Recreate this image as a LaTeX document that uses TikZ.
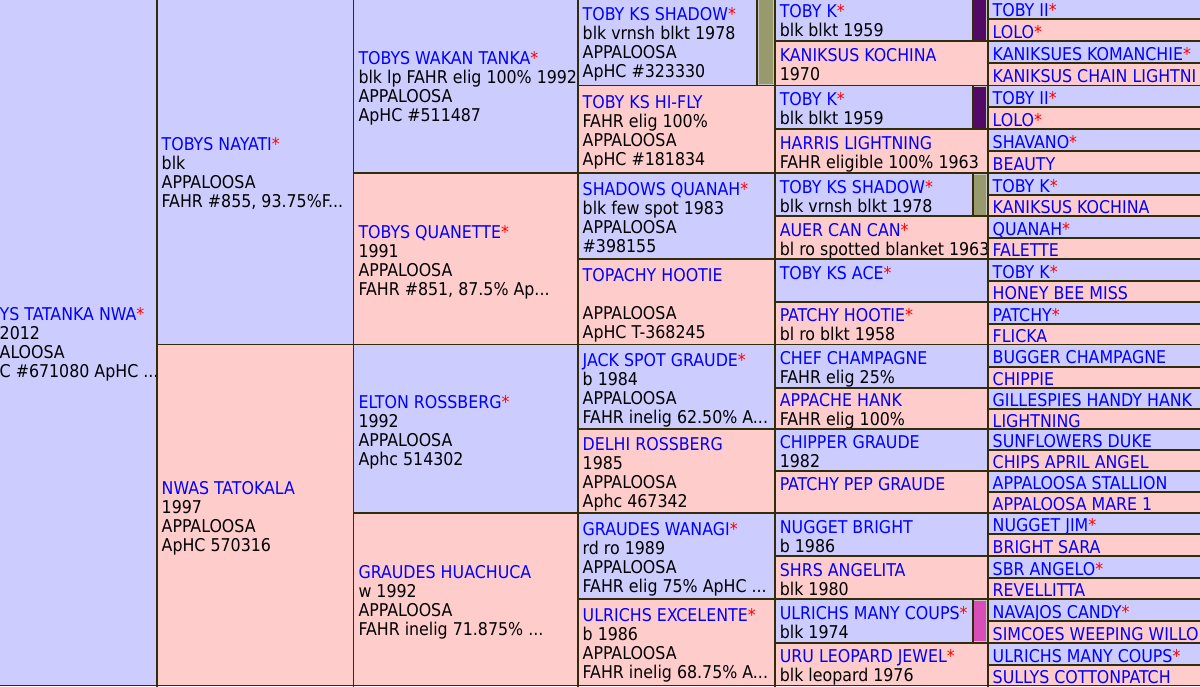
\documentclass[tikz,border=0pt]{standalone}
\usepackage{fontspec}
\setmainfont{DejaVu Sans Condensed}
\definecolor{bfill}{RGB}{204,204,255}
\definecolor{pfill}{RGB}{255,204,204}
\definecolor{bord}{RGB}{51,44,10}
\definecolor{nameblue}{RGB}{0,0,255}
\definecolor{starred}{RGB}{255,0,0}
\definecolor{olivebar}{RGB}{153,153,110}
\definecolor{purplebar}{RGB}{82,10,102}
\definecolor{magbar}{RGB}{217,77,184}
\newcommand\Hn[1]{\textcolor{nameblue}{#1}}
\newcommand\Hs{\textcolor{starred}{*}}
\newcommand\Ln[1]{\hbox{#1}}
\newcommand\Cell[8]{%
  \fill[#6] (#2,#3) rectangle (#4,#5);
  \pgfmathsetmacro\cby{(#3+#5)/2-#7*9.5+17.5}%
  \pgfmathsetmacro\cbx{#2+5}%
  \node[txt] (#1) at (\cbx,\cby) {\vtop{\baselineskip=14.25pt\relax\lineskiplimit=-100pt\relax #8}};}
\newcommand\Bar[5]{%
  \fill[#5] (#1,#2) rectangle (#3,#4);
  \draw[barline] ({#1+1.2},{#2+1.2}) rectangle ({#3-1.2},{#4-1.2});}
\tikzset{
  txt/.style={anchor=base west, inner sep=0pt, outer sep=0pt,
    font=\fontsize{13.2}{14.25}\selectfont},
  bordline/.style={draw=bord, line width=1.4pt},
  barline/.style={draw=gray!45, line width=0.7pt}
}
\begin{document}
\begin{tikzpicture}[x=0.75pt,y=-0.75pt]
\useasboundingbox (0,0) rectangle (1200,686);
\clip (0,0) rectangle (1200,686);
% ---------- column 0 ----------
\Cell{g0}{-5.3}{-2.7}{156.7}{685.5}{bfill}{4}{\Ln{\Hn{YS TATANKA NWA}\Hs}\Ln{2012}\Ln{ALOOSA}\Ln{C \#671080 ApHC ...}}
% ---------- column 1 ----------
\Cell{g1a}{156.7}{-2.7}{353.5}{344.5}{bfill}{4}{\Ln{\Hn{TOBYS NAYATI}\Hs}\Ln{blk}\Ln{APPALOOSA}\Ln{FAHR \#855, 93.75\%F...}}
\Cell{g1b}{156.7}{344.5}{353.5}{685.5}{pfill}{4}{\Ln{\Hn{NWAS TATOKALA}}\Ln{1997}\Ln{APPALOOSA}\Ln{ApHC 570316}}
% ---------- column 2 ----------
\Cell{g2a}{353.5}{-2.7}{577.7}{173}{bfill}{4}{\Ln{\Hn{TOBYS WAKAN TANKA}\Hs}\Ln{blk lp FAHR elig 100\% 1992}\Ln{APPALOOSA}\Ln{ApHC \#511487}}
\Cell{g2b}{353.5}{173}{577.7}{344.5}{pfill}{4}{\Ln{\Hn{TOBYS QUANETTE}\Hs}\Ln{1991}\Ln{APPALOOSA}\Ln{FAHR \#851, 87.5\% Ap...}}
\Cell{g2c}{353.5}{344.5}{577.7}{513}{bfill}{4}{\Ln{\Hn{ELTON ROSSBERG}\Hs}\Ln{1992}\Ln{APPALOOSA}\Ln{Aphc 514302}}
\Cell{g2d}{353.5}{513}{577.7}{685.5}{pfill}{4}{\Ln{\Hn{GRAUDES HUACHUCA}}\Ln{w 1992}\Ln{APPALOOSA}\Ln{FAHR inelig 71.875\% ...}}
% ---------- column 3 ----------
\Cell{g3a}{577.7}{-2.7}{774.8}{85.5}{bfill}{4}{\Ln{\Hn{TOBY KS SHADOW}\Hs}\Ln{blk vrnsh blkt 1978}\Ln{APPALOOSA}\Ln{ApHC \#323330}}
\Cell{g3b}{577.7}{85.5}{774.8}{173}{pfill}{4}{\Ln{\Hn{TOBY KS HI-FLY}}\Ln{FAHR elig 100\%}\Ln{APPALOOSA}\Ln{ApHC \#181834}}
\Cell{g3c}{577.7}{173}{774.8}{259}{bfill}{4}{\Ln{\Hn{SHADOWS QUANAH}\Hs}\Ln{blk few spot 1983}\Ln{APPALOOSA}\Ln{\#398155}}
\Cell{g3d}{577.7}{259}{774.8}{344.5}{pfill}{4}{\Ln{\Hn{TOPACHY HOOTIE}}\Ln{}\Ln{APPALOOSA}\Ln{ApHC T-368245}}
\Cell{g3e}{577.7}{344.5}{774.8}{429}{bfill}{4}{\Ln{\Hn{JACK SPOT GRAUDE}\Hs}\Ln{b 1984}\Ln{APPALOOSA}\Ln{FAHR inelig 62.50\% A...}}
\Cell{g3f}{577.7}{429}{774.8}{513}{pfill}{4}{\Ln{\Hn{DELHI ROSSBERG}}\Ln{1985}\Ln{APPALOOSA}\Ln{Aphc 467342}}
\Cell{g3g}{577.7}{513}{774.8}{599}{bfill}{4}{\Ln{\Hn{GRAUDES WANAGI}\Hs}\Ln{rd ro 1989}\Ln{APPALOOSA}\Ln{FAHR elig 75\% ApHC ...}}
\Cell{g3h}{577.7}{599}{774.8}{685.5}{pfill}{4}{\Ln{\Hn{ULRICHS EXCELENTE}\Hs}\Ln{b 1986}\Ln{APPALOOSA}\Ln{FAHR inelig 68.75\% A...}}
% ---------- column 4 ----------
\Cell{g4a}{774.8}{-2.7}{987.7}{41.3}{bfill}{2}{\Ln{\Hn{TOBY K}\Hs}\Ln{blk blkt 1959}}
\Cell{g4b}{774.8}{41.3}{987.7}{85.5}{pfill}{2}{\Ln{\Hn{KANIKSUS KOCHINA}}\Ln{1970}}
\Cell{g4c}{774.8}{85.5}{987.7}{129.3}{bfill}{2}{\Ln{\Hn{TOBY K}\Hs}\Ln{blk blkt 1959}}
\Cell{g4d}{774.8}{129.3}{987.7}{173}{pfill}{2}{\Ln{\Hn{HARRIS LIGHTNING}}\Ln{FAHR eligible 100\% 1963}}
\Cell{g4e}{774.8}{173}{987.7}{216.3}{bfill}{2}{\Ln{\Hn{TOBY KS SHADOW}\Hs}\Ln{blk vrnsh blkt 1978}}
\Cell{g4f}{774.8}{216.3}{987.7}{259}{pfill}{2}{\Ln{\Hn{AUER CAN CAN}\Hs}\Ln{bl ro spotted blanket 1963}}
\Cell{g4g}{774.8}{259}{987.7}{302.3}{bfill}{2}{\Ln{\Hn{TOBY KS ACE}\Hs}\Ln{}}
\Cell{g4h}{774.8}{302.3}{987.7}{344.5}{pfill}{2}{\Ln{\Hn{PATCHY HOOTIE}\Hs}\Ln{bl ro blkt 1958}}
\Cell{g4i}{774.8}{344.5}{987.7}{387.7}{bfill}{2}{\Ln{\Hn{CHEF CHAMPAGNE}}\Ln{FAHR elig 25\%}}
\Cell{g4j}{774.8}{387.7}{987.7}{429}{pfill}{2}{\Ln{\Hn{APPACHE HANK}}\Ln{FAHR elig 100\%}}
\Cell{g4k}{774.8}{429}{987.7}{471}{bfill}{2}{\Ln{\Hn{CHIPPER GRAUDE}}\Ln{1982}}
\Cell{g4l}{774.8}{471}{987.7}{513}{pfill}{2}{\Ln{\Hn{PATCHY PEP GRAUDE}}\Ln{}}
\Cell{g4m}{774.8}{513}{987.7}{556.3}{bfill}{2}{\Ln{\Hn{NUGGET BRIGHT}}\Ln{b 1986}}
\Cell{g4n}{774.8}{556.3}{987.7}{599}{pfill}{2}{\Ln{\Hn{SHRS ANGELITA}}\Ln{blk 1980}}
\Cell{g4o}{774.8}{599}{987.7}{643}{bfill}{2}{\Ln{\Hn{ULRICHS MANY COUPS}\Hs}\Ln{blk 1974}}
\Cell{g4p}{774.8}{643}{987.7}{685.5}{pfill}{2}{\Ln{\Hn{URU LEOPARD JEWEL}\Hs}\Ln{blk leopard 1976}}
% ---------- column 5 ----------
\Cell{g5a}{987.7}{-2.7}{1205}{19.3}{bfill}{1}{\Ln{\Hn{TOBY II}\Hs}}
\Cell{g5b}{987.7}{19.3}{1205}{41.3}{pfill}{1}{\Ln{\Hn{LOLO}\Hs}}
\Cell{g5c}{987.7}{41.3}{1205}{63.3}{bfill}{1}{\Ln{\Hn{KANIKSUES KOMANCHIE}\Hs}}
\Cell{g5d}{987.7}{63.3}{1205}{85.5}{pfill}{1}{\Ln{\Hn{KANIKSUS CHAIN LIGHTNI}}}
\Cell{g5e}{987.7}{85.5}{1205}{107.3}{bfill}{1}{\Ln{\Hn{TOBY II}\Hs}}
\Cell{g5f}{987.7}{107.3}{1205}{129.3}{pfill}{1}{\Ln{\Hn{LOLO}\Hs}}
\Cell{g5g}{987.7}{129.3}{1205}{151.3}{bfill}{1}{\Ln{\Hn{SHAVANO}\Hs}}
\Cell{g5h}{987.7}{151.3}{1205}{173}{pfill}{1}{\Ln{\Hn{BEAUTY}}}
\Cell{g5i}{987.7}{173}{1205}{195}{bfill}{1}{\Ln{\Hn{TOBY K}\Hs}}
\Cell{g5j}{987.7}{195}{1205}{216.3}{pfill}{1}{\Ln{\Hn{KANIKSUS KOCHINA}}}
\Cell{g5k}{987.7}{216.3}{1205}{237.7}{bfill}{1}{\Ln{\Hn{QUANAH}\Hs}}
\Cell{g5l}{987.7}{237.7}{1205}{259}{pfill}{1}{\Ln{\Hn{FALETTE}}}
\Cell{g5m}{987.7}{259}{1205}{281}{bfill}{1}{\Ln{\Hn{TOBY K}\Hs}}
\Cell{g5n}{987.7}{281}{1205}{302.3}{pfill}{1}{\Ln{\Hn{HONEY BEE MISS}}}
\Cell{g5o}{987.7}{302.3}{1205}{323.7}{bfill}{1}{\Ln{\Hn{PATCHY}\Hs}}
\Cell{g5p}{987.7}{323.7}{1205}{344.5}{pfill}{1}{\Ln{\Hn{FLICKA}}}
\Cell{g5q}{987.7}{344.5}{1205}{367}{bfill}{1}{\Ln{\Hn{BUGGER CHAMPAGNE}}}
\Cell{g5r}{987.7}{367}{1205}{387.7}{pfill}{1}{\Ln{\Hn{CHIPPIE}}}
\Cell{g5s}{987.7}{387.7}{1205}{409}{bfill}{1}{\Ln{\Hn{GILLESPIES HANDY HANK}}}
\Cell{g5t}{987.7}{409}{1205}{429}{pfill}{1}{\Ln{\Hn{LIGHTNING}}}
\Cell{g5u}{987.7}{429}{1205}{449.7}{bfill}{1}{\Ln{\Hn{SUNFLOWERS DUKE}}}
\Cell{g5v}{987.7}{449.7}{1205}{471}{pfill}{1}{\Ln{\Hn{CHIPS APRIL ANGEL}}}
\Cell{g5w}{987.7}{471}{1205}{492.3}{bfill}{1}{\Ln{\Hn{APPALOOSA STALLION}}}
\Cell{g5x}{987.7}{492.3}{1205}{513}{pfill}{1}{\Ln{\Hn{APPALOOSA MARE 1}}}
\Cell{g5y}{987.7}{513}{1205}{534.3}{bfill}{1}{\Ln{\Hn{NUGGET JIM}\Hs}}
\Cell{g5z}{987.7}{534.3}{1205}{556.3}{pfill}{1}{\Ln{\Hn{BRIGHT SARA}}}
\Cell{g5A}{987.7}{556.3}{1205}{577.7}{bfill}{1}{\Ln{\Hn{SBR ANGELO}\Hs}}
\Cell{g5B}{987.7}{577.7}{1205}{599}{pfill}{1}{\Ln{\Hn{REVELLITTA}}}
\Cell{g5C}{987.7}{599}{1205}{621}{bfill}{1}{\Ln{\Hn{NAVAJOS CANDY}\Hs}}
\Cell{g5D}{987.7}{621}{1205}{643}{pfill}{1}{\Ln{\Hn{SIMCOES WEEPING WILLO}}}
\Cell{g5E}{987.7}{643}{1205}{665}{bfill}{1}{\Ln{\Hn{ULRICHS MANY COUPS}\Hs}}
\Cell{g5F}{987.7}{665}{1205}{685.5}{pfill}{1}{\Ln{\Hn{SULLYS COTTONPATCH}}}
% ---------- duplicate-marker bars ----------
\Bar{757}{-2.7}{774.8}{85.5}{olivebar}
\Bar{972.7}{-2.7}{987.7}{41.3}{purplebar}
\Bar{972.7}{85.5}{987.7}{129.3}{purplebar}
\Bar{972.7}{173}{987.7}{216.3}{olivebar}
\Bar{972.7}{599}{987.7}{643}{magbar}
% ---------- borders ----------
\foreach \x in {156.7,353.5,577.7,774.8,987.7}
  \draw[bordline] (\x,-5) -- (\x,690);
\draw[bordline] (757,-5) -- (757,85.5);
\foreach \ya/\yb in {-2.7/41.3,85.5/129.3,173/216.3,599/643}
  \draw[bordline] (972.7,\ya) -- (972.7,\yb);
\draw[bordline] (-5,685.5) -- (1205,685.5);
\draw[bordline] (156.7,344.5) -- (353.5,344.5);
\foreach \y in {173,344.5,513}
  \draw[bordline] (353.5,\y) -- (577.7,\y);
\foreach \y in {85.5,173,259,344.5,429,513,599}
  \draw[bordline] (577.7,\y) -- (774.8,\y);
\foreach \y in {41.3,85.5,129.3,173,216.3,259,302.3,344.5,387.7,429,471,513,556.3,599,643}
  \draw[bordline] (774.8,\y) -- (987.7,\y);
\foreach \y in {19.3,41.3,63.3,85.5,107.3,129.3,151.3,173,195,216.3,237.7,259,281,302.3,323.7,344.5,367,387.7,409,429,449.7,471,492.3,513,534.3,556.3,577.7,599,621,643,665}
  \draw[bordline] (987.7,\y) -- (1205,\y);
\end{tikzpicture}
\end{document}
